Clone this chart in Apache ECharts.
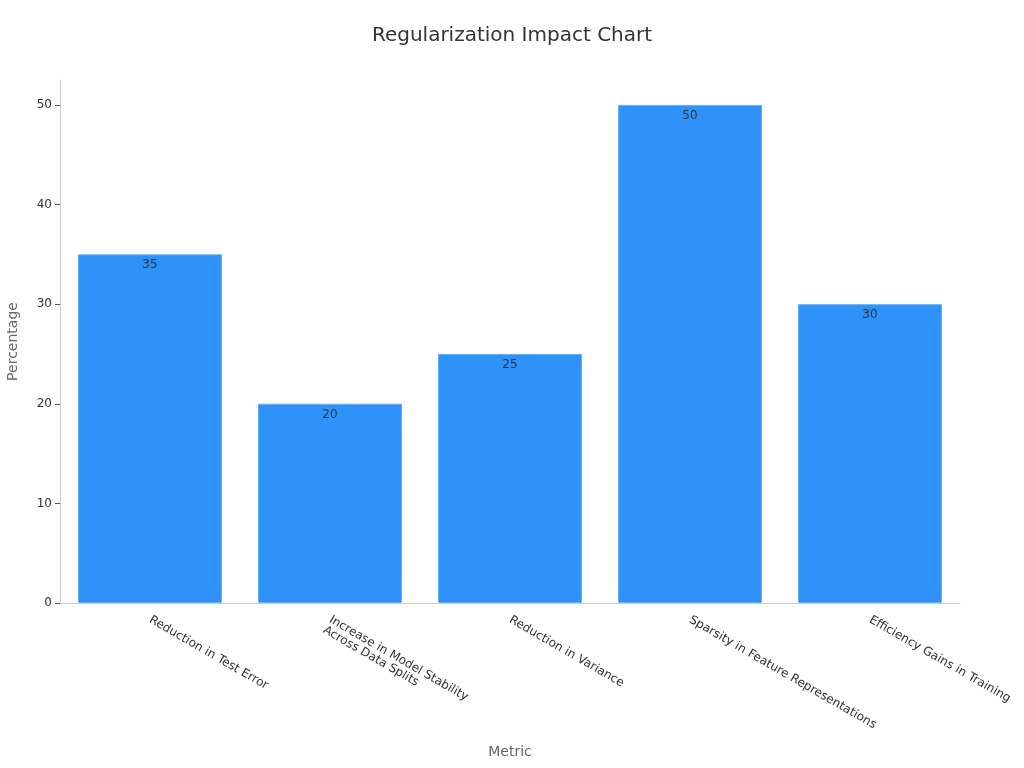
<!DOCTYPE html>
<html><head><meta charset="utf-8">
<script src="https://cdn.jsdelivr.net/npm/echarts@6/dist/echarts.min.js"></script>
<style>html,body{margin:0;padding:0;background:#fff}#c{width:1024px;height:768px}</style>
</head><body><div id="c"></div>
<script>
var categories = ["Reduction in Test Error", "Increase in Model Stability\nAcross Data Splits", "Reduction in Variance", "Sparsity in Feature Representations", "Efficiency Gains in Training"];
var values = [35, 20, 25, 50, 30];
var yTicks = [0, 10, 20, 30, 40, 50];

var chart = echarts.init(document.getElementById('c'));
chart.setOption({
  animation: false,
  textStyle: {fontFamily: 'DejaVu Sans'},
  title: {text: 'Regularization Impact Chart', left: 'center', top: 21,
    textStyle: {fontSize: 20, fontWeight: 'normal', color: '#333', fontFamily: 'DejaVu Sans'}},
  grid: {left: 60, right: 64, top: 80, bottom: 165, containLabel: false, outerBoundsMode: 'none'},
  xAxis: {
    type: 'category', data: categories,
    name: 'Metric', nameLocation: 'middle', nameGap: 142,
    nameTextStyle: {fontSize: 14, color: '#666'},
    axisLine: {lineStyle: {color: '#ccc'}},
    axisTick: {alignWithLabel: true, length: 5, lineStyle: {color: '#888'}},
    axisLabel: {rotate: -30, color: '#333', fontSize: 12, margin: 16, interval: 0, align: 'left',
      formatter: function (v) { return v.indexOf('\n') >= 0 ? ' \n' + v : v; }}
  },
  yAxis: {
    type: 'value', min: 0, max: 52.5,
    name: 'Percentage', nameLocation: 'middle', nameGap: 40,
    nameTextStyle: {fontSize: 14, color: '#666'},
    axisLine: {show: true, lineStyle: {color: '#ccc'}},
    axisTick: {show: true, length: 5, lineStyle: {color: '#555'}, customValues: yTicks},
    axisLabel: {color: '#333', fontSize: 12, margin: 8, customValues: yTicks},
    splitLine: {show: false}
  },
  series: [{
    type: 'bar', data: values, barCategoryGap: '20%',
    itemStyle: {color: '#2f92f8', borderColor: '#6aaef5', borderWidth: 1},
    label: {show: true, position: 'insideTop', color: '#333', fontSize: 12, distance: 5}
  }]
});
</script></body></html>
